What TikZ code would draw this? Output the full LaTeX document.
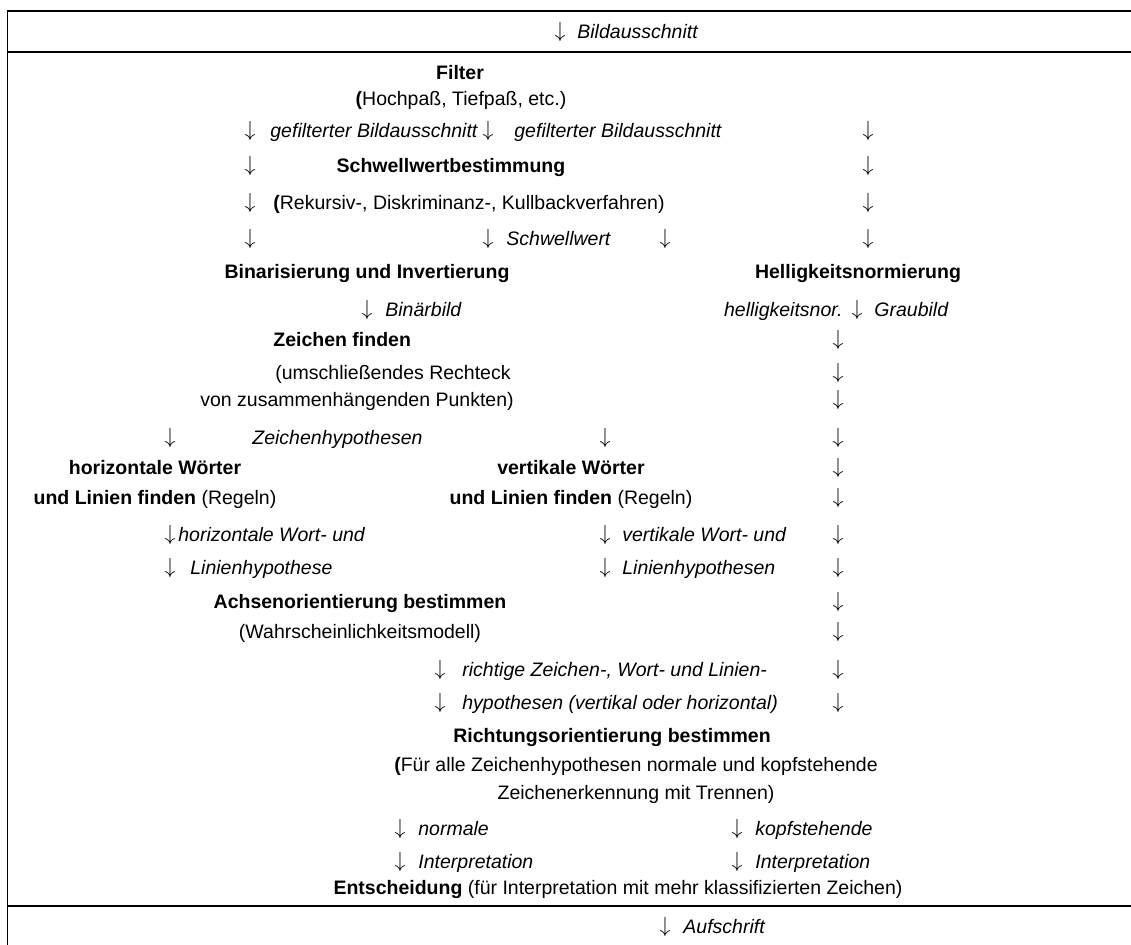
\documentclass[tikz,border=0pt]{standalone}
\usepackage{fontspec}
\setmainfont{Liberation Sans}
\newcommand{\fs}{\fontsize{9.75}{11.7}\selectfont}
\newcommand{\dn}{$\downarrow$}
\tikzset{
  txt/.style={inner sep=0pt, text height=7pt, text depth=0pt, anchor=west, font=\fs},
  lbl/.style={txt, font=\fs\itshape},
  hd/.style={txt, anchor=center, font=\fs\bfseries},
  mid/.style={txt, anchor=center},
  arr/.style={inner sep=0pt, anchor=center, font=\fontsize{10.5}{12}\selectfont},
  rule/.style={line width=0.85pt}
}

\begin{document}
\begin{tikzpicture}[x=0.5pt, y=-0.5pt]
    \useasboundingbox (0,0) rectangle (1131,945);

    % Frame
    \coordinate (nw) at (7.5,11);
    \coordinate (ne) at (1131,11);
    \coordinate (sw) at (7.5,945);
    \draw[rule] (ne) -- (nw) -- (sw);
    \draw[rule] (7.5,52) -- (1131,52);
    \draw[rule] (7.5,906) -- (1131,906);

    % Input
    \node[arr] (in) at (560,32) {\dn};
    \node[lbl] (inlbl) at (577,32) {Bildausschnitt};

    % Filter
    \node[hd] (filter) at (460,73) {Filter};
    \node[mid] (filterinfo) at (461,99) {\textbf{(}Hochpaß, Tiefpaß, etc.)};
    \node[arr] (f1) at (250,131) {\dn};
    \node[lbl] (gf1) at (270,131) {gefilterter Bildausschnitt};
    \node[arr] (f2) at (488,131) {\dn};
    \node[lbl] (gf2) at (514,131) {gefilterter Bildausschnitt};
    \node[arr] (f3) at (868,131) {\dn};

    % Schwellwert
    \node[arr] (s1) at (250,166) {\dn};
    \node[hd] (thresh) at (451,166) {Schwellwertbestimmung};
    \node[arr] (s2) at (868,166) {\dn};
    \node[arr] (s3) at (250,203) {\dn};
    \node[txt] (threshinfo) at (273,203) {\textbf{(}Rekursiv-, Diskriminanz-, Kullbackverfahren)};
    \node[arr] (s4) at (868,203) {\dn};
    \node[arr] (s5) at (250,239) {\dn};
    \node[arr] (s6) at (488,239) {\dn};
    \node[lbl] (swlbl) at (506,239) {Schwellwert};
    \node[arr] (s7) at (665,239) {\dn};
    \node[arr] (s8) at (868,239) {\dn};

    % Binarisierung / Helligkeit
    \node[hd] (bin) at (367,272) {Binarisierung und Invertierung};
    \node[hd] (norm) at (858,272) {Helligkeitsnormierung};
    \node[arr] (b1) at (367,310) {\dn};
    \node[lbl] (binlbl) at (385,310) {Binärbild};
    \node[lbl, anchor=east] (normlbl) at (843,310) {helligkeitsnor.};
    \node[arr] (g1) at (857,310) {\dn};
    \node[lbl] (graulbl) at (874,310) {Graubild};
    \foreach \y [count=\i] in {340,373,400,438,468,498,535,568,602,632,670,703}
        \node[arr] (gr\i) at (838,\y) {\dn};

    % Zeichen finden
    \node[hd, anchor=west] (find) at (273,340) {Zeichen finden};
    \node[txt] (find1) at (275,373) {(umschließendes Rechteck};
    \node[txt] (find2) at (200,400) {von zusammenhängenden Punkten)};
    \node[arr] (z1) at (170,438) {\dn};
    \node[lbl] (zh) at (252,438) {Zeichenhypothesen};
    \node[arr] (z2) at (605,438) {\dn};

    % Woerter und Linien
    \node[hd] (hw1) at (155,468) {horizontale Wörter};
    \node[mid] (hw2) at (155,498) {\textbf{und Linien finden} (Regeln)};
    \node[hd] (vw1) at (571,468) {vertikale Wörter};
    \node[mid] (vw2) at (571,498) {\textbf{und Linien finden} (Regeln)};
    \node[arr] (h1) at (170,535) {\dn};
    \node[lbl] (hl1) at (178,535) {horizontale Wort- und};
    \node[arr] (h2) at (170,568) {\dn};
    \node[lbl] (hl2) at (190,568) {Linienhypothese};
    \node[arr] (v1) at (605,535) {\dn};
    \node[lbl] (vl1) at (622,535) {vertikale Wort- und};
    \node[arr] (v2) at (605,568) {\dn};
    \node[lbl] (vl2) at (622,568) {Linienhypothesen};

    % Achsenorientierung
    \node[hd] (axis) at (360,602) {Achsenorientierung bestimmen};
    \node[mid] (axisinfo) at (360,632) {(Wahrscheinlichkeitsmodell)};
    \node[arr] (a1) at (440,670) {\dn};
    \node[lbl] (al1) at (462,670) {richtige Zeichen-, Wort- und Linien-};
    \node[arr] (a2) at (440,703) {\dn};
    \node[lbl] (al2) at (462,703) {hypothesen (vertikal oder horizontal)};

    % Richtungsorientierung
    \node[hd] (dir) at (612,736) {Richtungsorientierung bestimmen};
    \node[mid] (dir1) at (636,765) {\textbf{(}Für alle Zeichenhypothesen normale und kopfstehende};
    \node[mid] (dir2) at (636,793) {Zeichenerkennung mit Trennen)};
    \node[arr] (n1) at (400,829) {\dn};
    \node[lbl] (nl1) at (418,829) {normale};
    \node[arr] (n2) at (400,862) {\dn};
    \node[lbl] (nl2) at (418,862) {Interpretation};
    \node[arr] (k1) at (737,829) {\dn};
    \node[lbl] (kl1) at (755,829) {kopfstehende};
    \node[arr] (k2) at (737,862) {\dn};
    \node[lbl] (kl2) at (755,862) {Interpretation};

    % Entscheidung
    \node[mid] (dec) at (618,888) {\textbf{Entscheidung} (für Interpretation mit mehr klassifizierten Zeichen)};
    \node[arr] (out) at (665,927) {\dn};
    \node[lbl] (outlbl) at (683,927) {Aufschrift};
\end{tikzpicture}
\end{document}
